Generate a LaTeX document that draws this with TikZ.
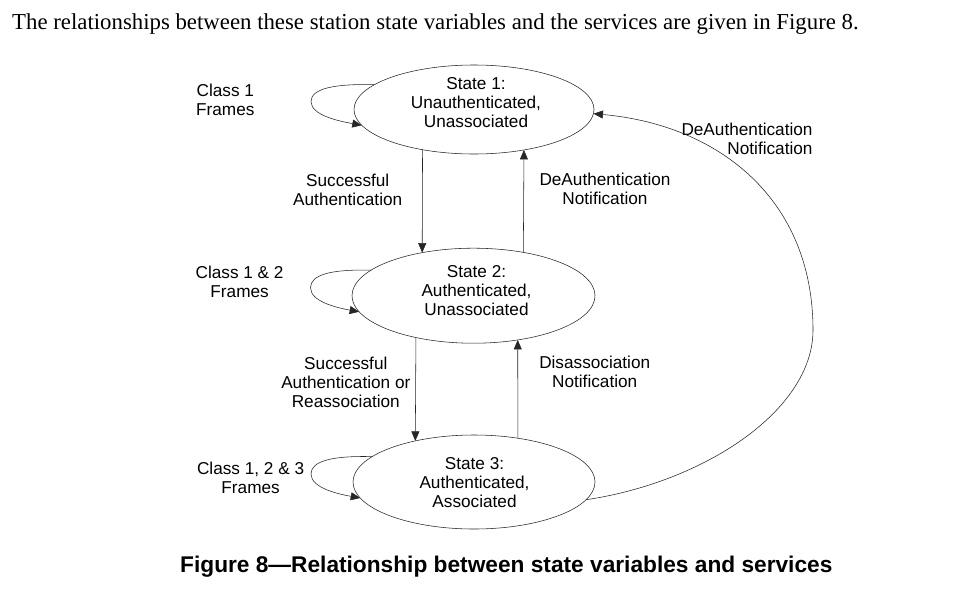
\documentclass[tikz,border=0pt]{standalone}
\usepackage{fontspec}
\setmainfont{Liberation Serif}
\newfontfamily\arialf{Liberation Sans}
\usetikzlibrary{arrows.meta,calc,shapes.geometric}
\newcommand\lbl[2][c]{\begin{tabular}[t]{@{}#1@{}}#2\end{tabular}}
\begin{document}
\begin{tikzpicture}[x=1pt,y=-1pt,
  state/.style={ellipse, draw=black!85, line width=0.55pt, inner sep=0pt, outer sep=0pt},
  txt/.style={font=\arialf\fontsize{17.2}{19}\selectfont, inner sep=0pt, anchor=base},
  arr/.style={draw=black!85, line width=0.55pt, -{Triangle[length=9.5pt,width=8pt]}},
]
\fill[white] (0,0) rectangle (968,603);
\useasboundingbox (0,0) rectangle (968,603);

\node[font=\fontsize{22.8}{27}\selectfont, inner sep=0pt, anchor=base west] (intro) at (12,29.3)
  {The relationships between these station state variables and the services are given in Figure 8.};

\node[state, minimum width=240pt, minimum height=89pt] (s1) at (474,109.5) {};
\node[state, minimum width=243pt, minimum height=95pt] (s2) at (473.5,295.7) {};
\node[state, minimum width=242pt, minimum height=94pt] (s3) at (474,482) {};

\node[txt] (t1) at (476,89.3) {\lbl{State 1:\\Unauthenticated,\\Unassociated}};
\node[txt] (t2) at (476.5,277) {\lbl{State 2:\\Authenticated,\\Unassociated}};
\node[txt] (t3) at (474.5,469.3) {\lbl{State 3:\\Authenticated,\\Associated}};

\node[txt] (l1) at (225.3,96.7) {\lbl{Class 1\\Frames}};
\node[txt] (l2) at (347.7,186) {\lbl{Successful\\Authentication}};
\node[txt] (l3) at (605,185.3) {\lbl{DeAuthentication\\Notification}};
\node[txt, anchor=base east] (l4) at (812.7,135.7) {\lbl[r]{DeAuthentication\\Notification}};
\node[txt] (l5) at (239.6,278.3) {\lbl{Class 1 \& 2\\Frames}};
\node[txt] (l6) at (345.8,369.3) {\lbl{Successful\\Authentication or\\Reassociation}};
\node[txt] (l7) at (594.7,368.3) {\lbl{Disassociation\\Notification}};
\node[txt] (l8) at (250.6,474.5) {\lbl{Class 1, 2 \& 3\\Frames}};

\node[font=\arialf\bfseries\fontsize{22.7}{27}\selectfont, inner sep=0pt, anchor=base west] (cap) at (180,572.3)
  {Figure 8—Relationship between state variables and services};

% vertical transitions
\draw[arr] (s1.218) -- (s2.140);
\draw[arr] (s2.41) -- (s1.321);
\draw[arr] (s2.216) -- (s3.145);
\draw[arr] (s3.45) -- (s2.315);

% self loops
\draw[arr] (s1.166) .. controls +(-40,-1) and +(0,-13) .. ($(s1.center)+(-163,-8)$) .. controls +(0,14) and +(-22,-4) .. (s1.188);
\draw[arr] (s2.166) .. controls +(-40,-1) and +(0,-13) .. ($(s2.center)+(-163,-8)$) .. controls +(0,14) and +(-22,-4) .. (s2.188);
\draw[arr] (s3.166) .. controls +(-40,-1) and +(0,-13) .. ($(s3.center)+(-163,-8)$) .. controls +(0,14) and +(-22,-4) .. (s3.188);

% big arc from state 3 back to state 1
\coordinate (arcR) at (813,330);
\draw[arr] (s3.351) .. controls (705,482) and (813,410) .. (arcR) .. controls (813,200) and (720,125) .. (s1.358);
\end{tikzpicture}
\end{document}
